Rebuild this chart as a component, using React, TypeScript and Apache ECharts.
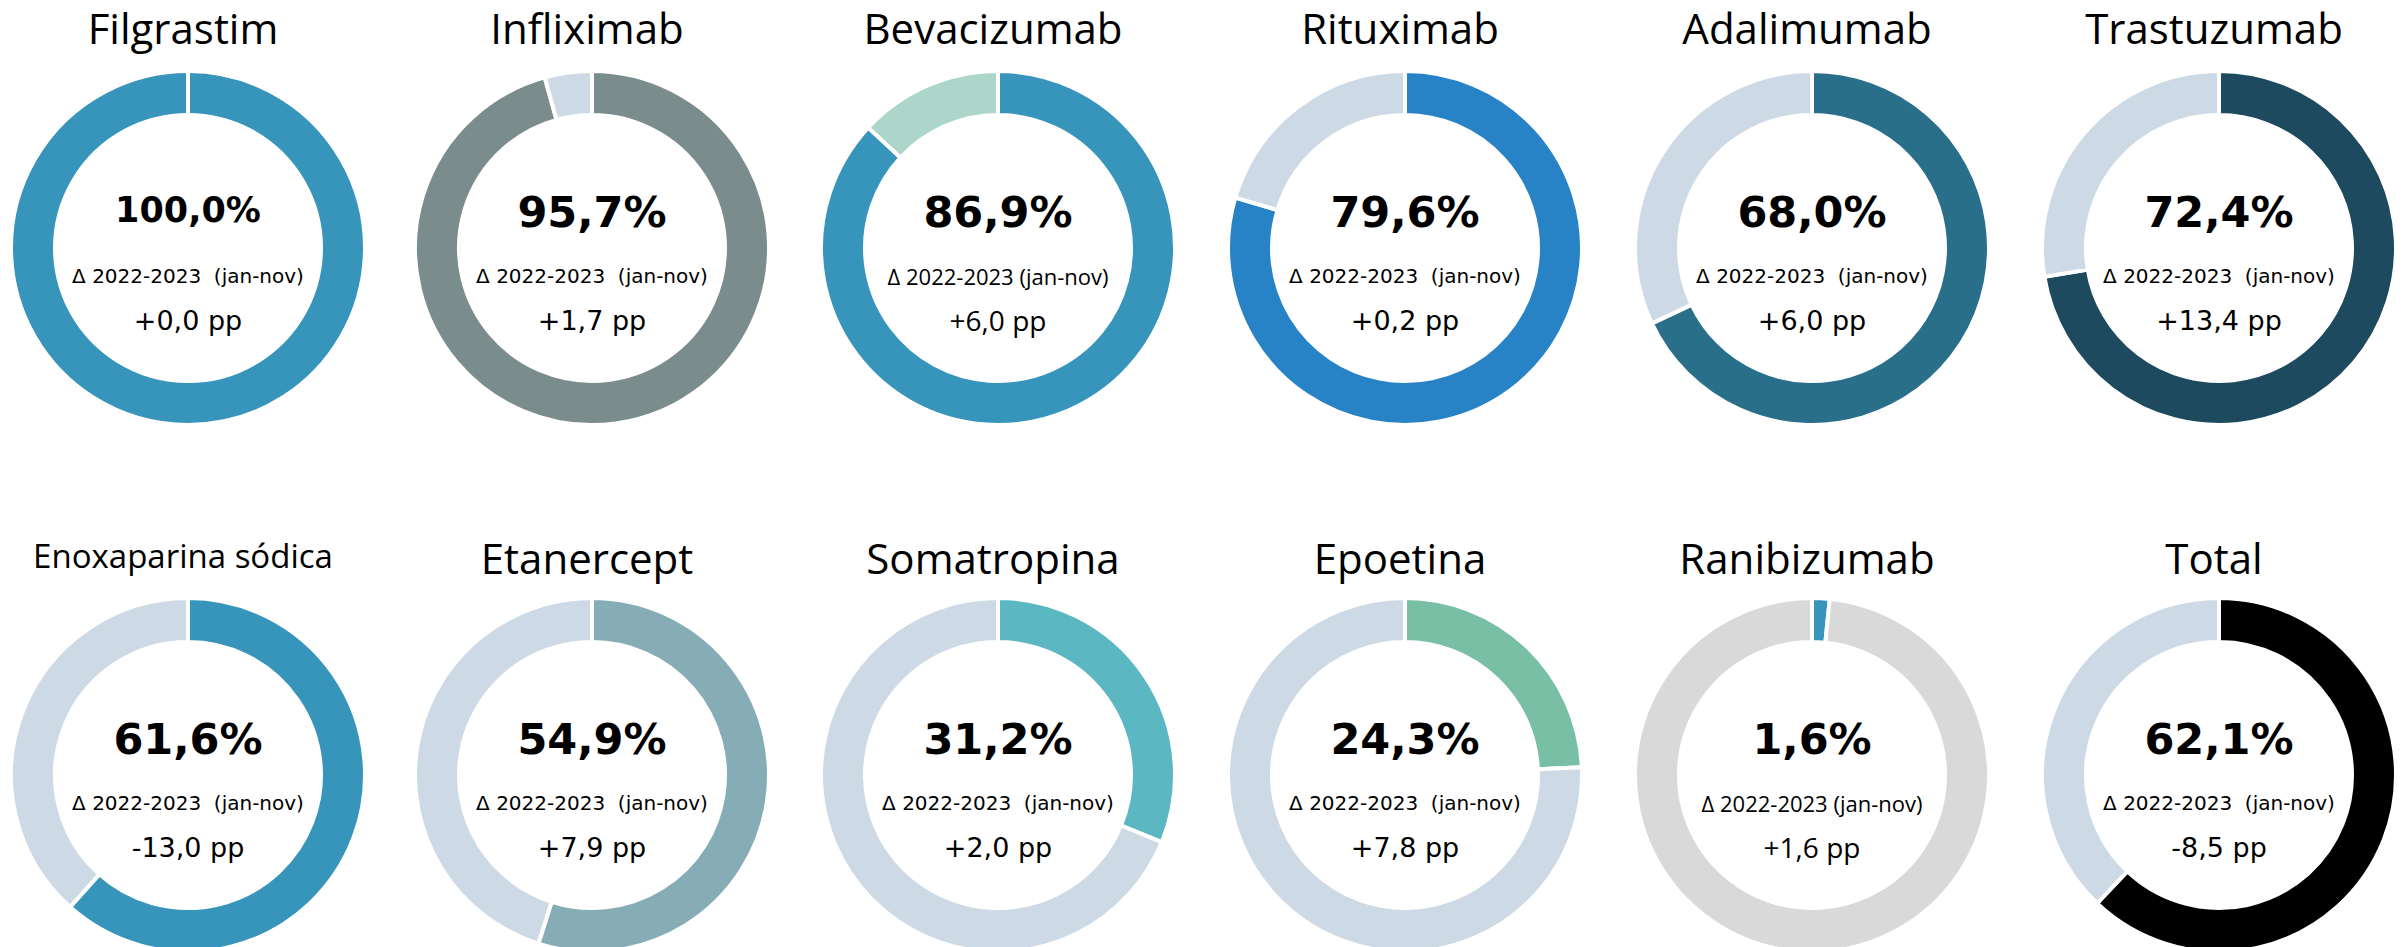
import React, { useEffect, useRef } from "react";
import * as echarts from "echarts";

// ---- Data ----
const NAMES = [
  "Filgrastim", "Infliximab", "Bevacizumab", "Rituximab", "Adalimumab", "Trastuzumab",
  "Enoxaparina sódica", "Etanercept", "Somatropina", "Epoetina", "Ranibizumab", "Total",
];
const SHARES = [100.0, 95.7, 86.9, 79.6, 68.0, 72.4, 61.6, 54.9, 31.2, 24.3, 1.6, 62.1];
const DELTAS = [0.0, 1.7, 6.0, 0.2, 6.0, 13.4, -13.0, 7.9, 2.0, 7.8, 1.6, -8.5];
const PERIOD_LABEL = "Δ 2022-2023  (jan-nov)";
const PERIOD_LABEL_ALT = "Δ 2022-2023 (jan-nov)";

// ---- Styles ----
const MAIN_COLORS = [
  "#3795bb", "#7a8c8c", "#3795bb", "#2883c6", "#2a6f8a", "#1d4a5e",
  "#3795bb", "#86adb6", "#5bb7c1", "#78bfa6", "#3795bb", "#000000",
];
const REST_COLORS = [
  "#cddae6", "#cddae6", "#acd6c9", "#cddae6", "#cddae6", "#cddae6",
  "#cddae6", "#cddae6", "#cddae6", "#cddae6", "#d9d9d9", "#cddae6",
];
const ALT_FONT = [false, false, true, false, false, false, false, false, false, false, true, false];

const COL_X = [188, 592, 998, 1405, 1812, 2219];
const ROW_Y = [248, 775];
const R_IN = 133;
const R_OUT = 177;
const TITLE_FONT = "'Open Sans', 'Liberation Sans', sans-serif";
const BODY_FONT = "'DejaVu Sans', sans-serif";
const ALT_BODY_FONT = "'Open Sans', sans-serif";

const fmt = (v: number) => v.toFixed(1).replace(".", ",");

export default function App() {
  const ref = useRef<HTMLDivElement>(null);

  useEffect(() => {
    document.body.style.margin = "0";
    if (!ref.current) return;
    const chart = echarts.init(ref.current, null, { renderer: "svg" });

    const series: any[] = [];
    const graphics: any[] = [];

    NAMES.forEach((name, i) => {
      const cx = COL_X[i % 6];
      const cy = ROW_Y[Math.floor(i / 6)];
      const share = SHARES[i];
      series.push({
        type: "pie",
        name,
        center: [cx, cy],
        radius: [R_IN, R_OUT],
        startAngle: 90,
        clockwise: true,
        silent: true,
        label: { show: false },
        labelLine: { show: false },
        emphasis: { disabled: true },
        itemStyle: { borderColor: "#ffffff", borderWidth: 4 },
        data: [
          { name: "share", value: share, itemStyle: { color: MAIN_COLORS[i] } },
          { name: "rest", value: +(100 - share).toFixed(1), itemStyle: { color: REST_COLORS[i] } },
        ],
      });

      const isRow2 = i >= 6;
      const longTitle = name.length > 14;
      graphics.push({
        type: "text",
        x: cx - 5,
        y: isRow2 ? (longTitle ? 555 : 557) : 27,
        style: {
          text: name,
          fontFamily: TITLE_FONT,
          fontSize: longTitle ? 33 : 42,
          fill: "#000000",
          align: "center",
          verticalAlign: "middle",
        },
      });

      const big = share >= 100;
      graphics.push({
        type: "text",
        x: cx,
        y: cy - (big ? 38 : 36),
        style: {
          text: fmt(share) + "%",
          fontFamily: BODY_FONT,
          fontWeight: "bold",
          fontSize: big ? 35 : 43,
          fill: "#000000",
          align: "center",
          verticalAlign: "middle",
        },
      });

      const alt = ALT_FONT[i];
      graphics.push({
        type: "text",
        x: cx,
        y: cy + 28,
        style: {
          text: alt ? PERIOD_LABEL_ALT : PERIOD_LABEL,
          fontFamily: alt ? ALT_BODY_FONT : BODY_FONT,
          fontSize: alt ? 22 : 20,
          fill: "#000000",
          align: "center",
          verticalAlign: "middle",
        },
      });

      const d = DELTAS[i];
      graphics.push({
        type: "text",
        x: cx,
        y: cy + 72,
        style: {
          text: (d >= 0 ? "+" : "") + fmt(d) + " pp",
          fontFamily: alt ? ALT_BODY_FONT : BODY_FONT,
          fontSize: alt ? 28 : 27,
          fill: "#000000",
          align: "center",
          verticalAlign: "middle",
        },
      });
    });

    chart.setOption({
      animation: false,
      backgroundColor: "#ffffff",
      series,
      graphic: graphics,
    });

    return () => chart.dispose();
  }, []);

  return <div ref={ref} style={{ width: 2405, height: 947 }} />;
}
